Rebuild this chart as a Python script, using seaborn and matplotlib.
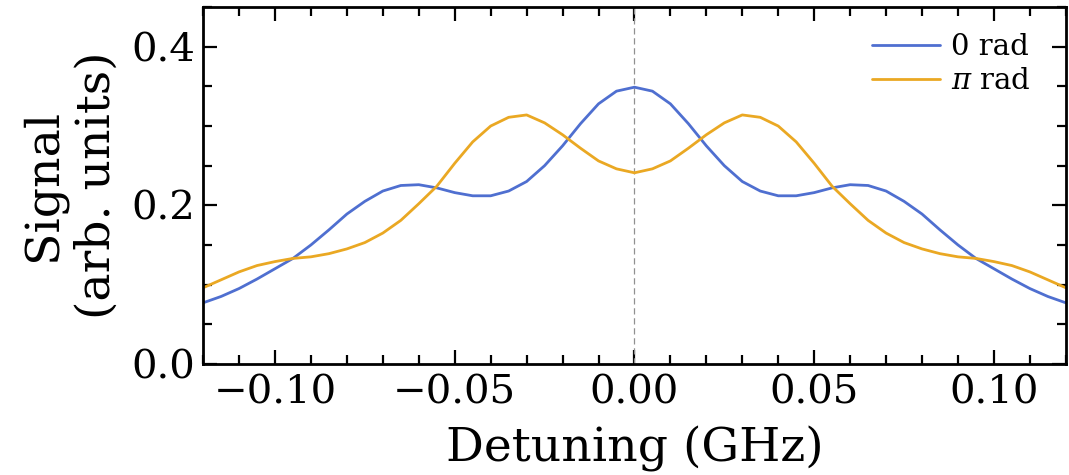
import numpy as np
import pandas as pd
import matplotlib
matplotlib.use("Agg")
import matplotlib.pyplot as plt
from matplotlib.ticker import MultipleLocator
import seaborn as sns

# Detuning grid (GHz) and signal values
detuning = [-0.120, -0.115, -0.110, -0.105, -0.100, -0.095, -0.090, -0.085, -0.080,
            -0.075, -0.070, -0.065, -0.060, -0.055, -0.050, -0.045, -0.040, -0.035,
            -0.030, -0.025, -0.020, -0.015, -0.010, -0.005, 0.000, 0.005, 0.010,
            0.015, 0.020, 0.025, 0.030, 0.035, 0.040, 0.045, 0.050, 0.055, 0.060,
            0.065, 0.070, 0.075, 0.080, 0.085, 0.090, 0.095, 0.100, 0.105, 0.110,
            0.115, 0.120]

signal_0 = [0.077, 0.085, 0.095, 0.107, 0.120, 0.133, 0.150, 0.169, 0.189,
            0.205, 0.218, 0.225, 0.226, 0.222, 0.216, 0.212, 0.212, 0.218,
            0.230, 0.250, 0.275, 0.303, 0.328, 0.344, 0.349, 0.344, 0.328,
            0.303, 0.275, 0.250, 0.230, 0.218, 0.212, 0.212, 0.216, 0.222, 0.226,
            0.225, 0.218, 0.205, 0.189, 0.169, 0.150, 0.133, 0.120, 0.107, 0.095,
            0.085, 0.077]

signal_pi = [0.096, 0.106, 0.116, 0.124, 0.129, 0.133, 0.135, 0.139, 0.145,
             0.153, 0.165, 0.181, 0.202, 0.224, 0.253, 0.280, 0.300, 0.311,
             0.314, 0.304, 0.289, 0.272, 0.256, 0.246, 0.241, 0.246, 0.256,
             0.272, 0.289, 0.304, 0.314, 0.311, 0.300, 0.280, 0.253, 0.224, 0.202,
             0.181, 0.165, 0.153, 0.145, 0.139, 0.135, 0.133, 0.129, 0.124, 0.116,
             0.106, 0.096]

labels = ["0 rad", r"$\pi$ rad"]
colors = ["#4f6fd0", "#eaa823"]

df = pd.concat([
    pd.DataFrame({"detuning": detuning, "signal": signal_0, "phase": labels[0]}),
    pd.DataFrame({"detuning": detuning, "signal": signal_pi, "phase": labels[1]}),
])

sns.set_style("ticks")
plt.rcParams["font.family"] = ["DejaVu Serif"]
plt.rcParams["mathtext.fontset"] = "dejavuserif"
for k in ["text.color", "axes.labelcolor", "xtick.color", "ytick.color", "axes.edgecolor"]:
    plt.rcParams[k] = "black"

fig = plt.figure(figsize=(10.69, 4.75), dpi=100)
ax = fig.add_axes([0.19, 0.234, 0.807, 0.751])

ax.axvline(0, color="#909090", lw=0.9, ls=(0, (5, 3)), zorder=1)
sns.lineplot(data=df, x="detuning", y="signal", hue="phase",
             palette=dict(zip(labels, colors)), lw=2, ax=ax, zorder=2)

ax.set_xlim(-0.12, 0.12)
ax.set_ylim(0, 0.45)
ax.xaxis.set_major_locator(MultipleLocator(0.05))
ax.xaxis.set_minor_locator(MultipleLocator(0.01))
ax.yaxis.set_major_locator(MultipleLocator(0.2))
ax.yaxis.set_minor_locator(MultipleLocator(0.05))
ax.tick_params(which="both", direction="in", top=True, right=True,
               bottom=True, left=True, labelsize=29, width=1.6)
ax.tick_params(which="major", length=10)
ax.tick_params(which="minor", length=6.5)
ax.tick_params(axis="y", pad=6)
ax.tick_params(axis="x", pad=8)
for s in ax.spines.values():
    s.set_linewidth(2)

ax.set_xlabel("Detuning (GHz)", fontsize=34, labelpad=10)
ax.set_ylabel("Signal\n(arb. units)", fontsize=34, labelpad=8, linespacing=1.25)

leg = ax.legend(loc="upper right", bbox_to_anchor=(0.99, 1.0), frameon=False,
                fontsize=21, handlelength=2.3, handletextpad=0.4,
                borderaxespad=0.5, labelspacing=0.2)
leg.set_title(None)

fig.savefig("out.png", dpi=100)
